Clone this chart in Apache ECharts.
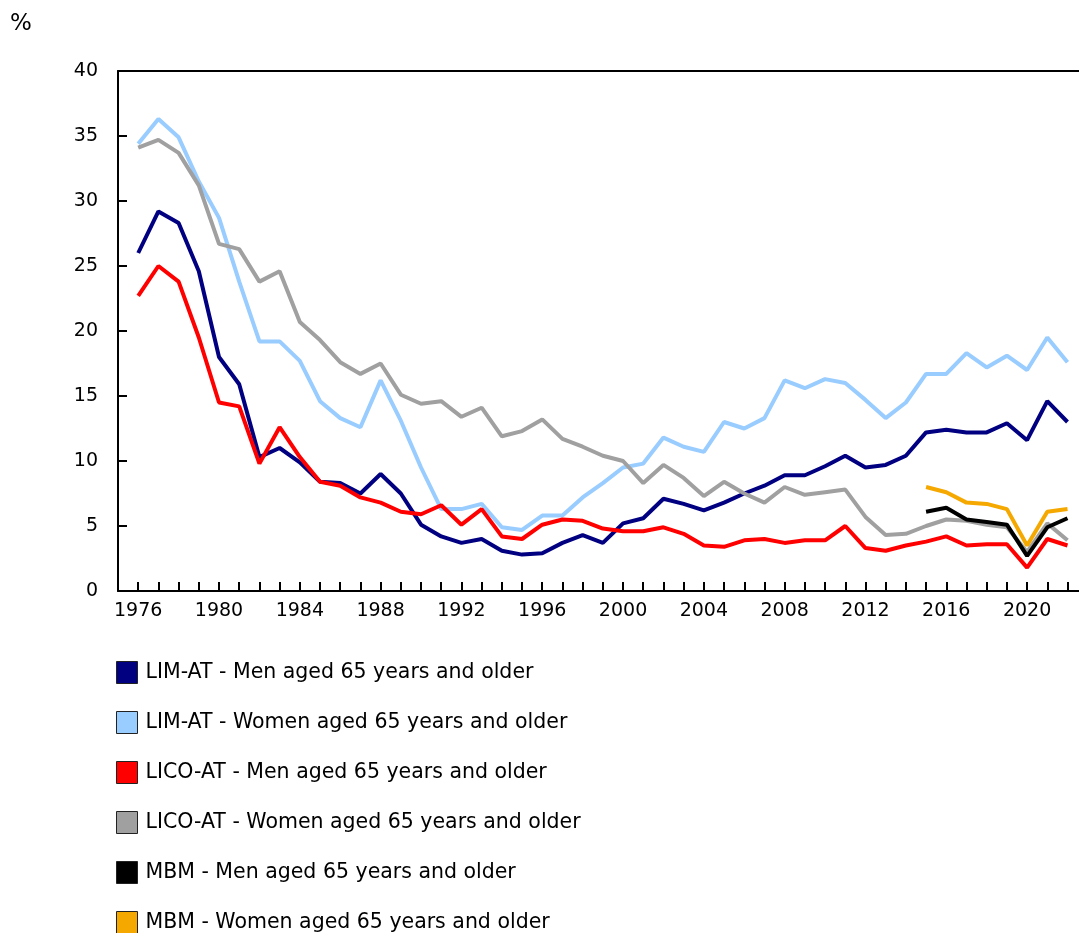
<!DOCTYPE html>
<html>
<head>
<meta charset="utf-8">
<script src="https://cdn.jsdelivr.net/npm/echarts@6/dist/echarts.min.js"></script>
<style>
html,body{margin:0;padding:0;background:#fff;}
#chart{width:1079px;height:933px;}
</style>
</head>
<body>
<div id="chart"></div>
<script>
const years = [];
for (let y = 1976; y <= 2022; y++) years.push(y);
const xTickLabels = [1976, 1980, 1984, 1988, 1992, 1996, 2000, 2004, 2008, 2012, 2016, 2020];
const yTicks = [0, 5, 10, 15, 20, 25, 30, 35, 40];

const limMen = [26.0,29.2,28.3,24.6,18.0,15.9,10.3,11.0,9.9,8.4,8.3,7.5,9.0,7.5,5.1,4.2,3.7,4.0,3.1,2.8,2.9,3.7,4.3,3.7,5.2,5.6,7.1,6.7,6.2,6.8,7.5,8.1,8.9,8.9,9.6,10.4,9.5,9.7,10.4,12.2,12.4,12.2,12.2,12.9,11.6,14.6,13.0];
const limWomen = [34.4,36.3,34.9,31.5,28.7,23.8,19.2,19.2,17.7,14.6,13.3,12.6,16.2,13.1,9.5,6.3,6.3,6.7,4.9,4.7,5.8,5.8,7.2,8.3,9.5,9.8,11.8,11.1,10.7,13.0,12.5,13.3,16.2,15.6,16.3,16.0,14.7,13.3,14.5,16.7,16.7,18.3,17.2,18.1,17.0,19.5,17.6];
const licoMen = [22.7,25.0,23.8,19.5,14.5,14.2,9.8,12.6,10.3,8.4,8.1,7.2,6.8,6.1,5.9,6.6,5.1,6.3,4.2,4.0,5.1,5.5,5.4,4.8,4.6,4.6,4.9,4.4,3.5,3.4,3.9,4.0,3.7,3.9,3.9,5.0,3.3,3.1,3.5,3.8,4.2,3.5,3.6,3.6,1.8,4.0,3.5];
const licoWomen = [34.1,34.7,33.7,31.2,26.7,26.3,23.8,24.6,20.7,19.3,17.6,16.7,17.5,15.1,14.4,14.6,13.4,14.1,11.9,12.3,13.2,11.7,11.1,10.4,10.0,8.3,9.7,8.7,7.3,8.4,7.5,6.8,8.0,7.4,7.6,7.8,5.7,4.3,4.4,5.0,5.5,5.4,5.1,4.9,3.0,5.2,3.9];
const mbmYears = [2015, 2016, 2017, 2018, 2019, 2020, 2021, 2022];
const mbmMen = [6.1,6.4,5.5,5.3,5.1,2.7,4.9,5.6];
const mbmWomen = [8.0,7.6,6.8,6.7,6.3,3.5,6.1,6.3];

const seriesNames = [
  'LIM-AT - Men aged 65 years and older',
  'LIM-AT - Women aged 65 years and older',
  'LICO-AT - Men aged 65 years and older',
  'LICO-AT - Women aged 65 years and older',
  'MBM - Men aged 65 years and older',
  'MBM - Women aged 65 years and older'
];
const colors = ['#000080', '#99ccff', '#ff0000', '#a0a0a0', '#000000', '#f5a800'];

function pairs(xs, vs) { return xs.map(function (x, i) { return [x, vs[i]]; }); }
const seriesData = [
  pairs(years, limMen), pairs(years, limWomen), pairs(years, licoMen),
  pairs(years, licoWomen), pairs(mbmYears, mbmMen), pairs(mbmYears, mbmWomen)
];

const font = 'DejaVu Sans, Verdana, sans-serif';
const chart = echarts.init(document.getElementById('chart'));

chart.setOption({
  animation: false,
  color: colors,
  textStyle: { fontFamily: font },
  grid: { left: 118, right: 0, top: 71, bottom: 342 },
  title: {
    text: '%', left: 5, top: 8,
    textStyle: { fontFamily: font, fontSize: 23, fontWeight: 'normal', color: '#000' }
  },
  legend: {
    orient: 'vertical', left: 111, top: 656, height: 300,
    itemWidth: 21, itemHeight: 22, itemGap: 27,
    icon: 'rect',
    itemStyle: { borderColor: '#222', borderWidth: 1 },
    textStyle: { fontFamily: font, fontSize: 20.5, color: '#000', padding: [0, 0, 0, 3] },
    data: seriesNames
  },
  xAxis: [{
    type: 'value',
    min: 1975, max: 2022.57,
    axisLine: { show: true, lineStyle: { color: '#000', width: 2 } },
    axisTick: { show: true, inside: true, length: 9, customValues: years, lineStyle: { color: '#000', width: 2 } },
    axisLabel: {
      customValues: xTickLabels,
      formatter: function (v) { return String(v); },
      color: '#000', fontSize: 19, fontFamily: font, margin: 11
    },
    splitLine: { show: false }
  }, {
    type: 'value',
    position: 'top',
    min: 1975, max: 2022.57,
    axisLine: { show: true, lineStyle: { color: '#000', width: 2 } },
    axisTick: { show: false },
    axisLabel: { show: false },
    splitLine: { show: false }
  }],
  yAxis: {
    type: 'value',
    min: 0, max: 40, interval: 5,
    axisLine: { show: true, lineStyle: { color: '#000', width: 2 } },
    axisTick: { show: true, inside: true, length: 9, lineStyle: { color: '#000', width: 2 } },
    axisLabel: { color: '#000', fontSize: 19, fontFamily: font, margin: 20 },
    splitLine: { show: false }
  },
  series: seriesNames.map(function (name, i) {
    return {
      name: name,
      type: 'line',
      data: seriesData[i],
      xAxisIndex: 0,
      symbol: 'none',
      itemStyle: { color: colors[i] },
      lineStyle: { color: colors[i], width: 4 }
    };
  })
});
</script>
</body>
</html>
